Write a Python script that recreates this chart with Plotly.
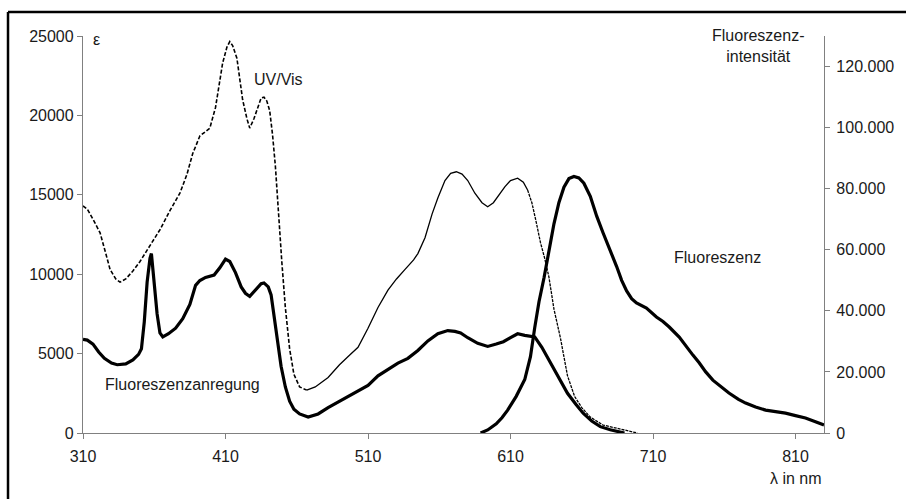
import plotly.graph_objects as go

# ---------------- data ----------------
uv_wl = [310, 313, 318, 322, 326, 329, 333, 336, 340, 345, 350, 357, 364, 371, 378, 383, 387, 392, 396, 399,
         403, 406, 408, 411, 413, 415, 418, 420, 422, 425, 427, 430, 433, 435, 437, 439, 441, 443, 445, 447,
         449.5, 452, 455, 458, 462, 467, 473, 482, 490, 497, 503, 510, 517, 524, 530, 536, 542, 545, 550, 555,
         559, 564, 568, 572, 576, 580, 585, 590, 594, 598, 602, 606, 610, 615, 619, 622, 625, 628, 631, 634,
         637, 640.5, 645, 650, 655, 660, 666, 675, 684, 692, 699]
uv_eps = [14300, 14100, 13300, 12600, 11300, 10300, 9700, 9500, 9700, 10200, 10800, 11800, 12800, 14000, 15100,
          16300, 17600, 18700, 19000, 19200, 20500, 22200, 23300, 24300, 24650, 24400, 23600, 22300, 21000, 19800,
          19200, 19800, 20600, 21100, 21150, 20900, 20300, 18800, 16800, 14000, 10800, 7900, 5300, 3700, 2900,
          2700, 2900, 3500, 4300, 4900, 5400, 6600, 7900, 9000, 9700, 10300, 10900, 11300, 12300, 13800,
          14800, 15900, 16350, 16450, 16300, 15900, 15100, 14500, 14250, 14500, 15000, 15500, 15900, 16050, 15800,
          15300, 14500, 13300, 12000, 11000, 9800, 7800, 6000, 3600, 2300, 1600, 1000, 500, 300, 150, 0]

exc_wl = [310, 313, 317, 321, 325, 330, 334, 340, 345, 349, 351, 353, 355, 357, 358, 360, 362, 364, 366, 370,
          375, 380, 385, 389, 392, 396, 402, 406, 410, 413, 417, 421, 424, 427, 431, 435, 437, 440, 442, 444,
          446, 449, 452, 455, 458, 462, 468, 475, 482, 490, 497, 503, 510, 517, 524, 531, 538, 545, 552, 559,
          566, 571, 575, 580, 587, 594, 600, 605, 610, 615, 620, 627, 632, 638, 644, 650, 656, 661, 667, 673,
          680, 686, 690]
exc_eps = [5900, 5850, 5600, 5100, 4700, 4400, 4300, 4350, 4600, 4950, 5300, 7000, 9500, 11000, 11300, 9500,
           7500, 6300, 6050, 6250, 6600, 7200, 8100, 9300, 9600, 9800, 9950, 10400, 10950, 10800, 10100, 9200,
           8800, 8600, 9000, 9400, 9450, 9200, 8700, 7500, 6200, 4200, 2900, 2000, 1500, 1200, 1000, 1200, 1600,
           2000, 2300, 2600, 3000, 3600, 4000, 4400, 4700, 5200, 5800, 6250, 6450, 6400, 6300, 6000, 5650, 5450,
           5600, 5750, 6000, 6250, 6150, 6050, 5400, 4400, 3400, 2500, 1800, 1250, 750, 400, 200, 100, 0]

fl_wl = [589, 594, 600, 604, 608, 614, 620, 624, 627, 630, 633.6, 637, 640.5, 644, 647.5, 651, 654.5, 658,
         661.5, 666, 670.5, 675, 679, 684.5, 688, 691.5, 695, 698.4, 705.4, 712.4, 717, 721.4, 728.4, 733.3,
         738, 742.4, 747, 752, 758, 763.3, 770, 775, 782, 789, 796, 803, 810, 817, 824, 830]
fl_int = [0, 1000, 3000, 5000, 7500, 12000, 17500, 25000, 34500, 43000, 51000, 60000, 68500, 75500, 80500,
          83300, 84000, 83500, 81800, 77500, 71000, 65500, 61000, 54500, 50000, 46500, 44000, 42600, 40900,
          38000, 36500, 34700, 31400, 28200, 25500, 23000, 20000, 17300, 15000, 13100, 11000, 9800, 8500, 7500,
          7000, 6500, 5700, 4900, 3700, 2600]

x_ticks = [310, 410, 510, 610, 710, 810]
left_ticks = [0, 5000, 10000, 15000, 20000, 25000]
right_ticks = [0, 20000, 40000, 60000, 80000, 100000, 120000]

# UV/Vis line segments (dashed / solid / dashed)
uv_split1, uv_split2 = 467, 622

FONT = "Liberation Sans, Arial, sans-serif"
FS = 16
TXT = "#1a1a1a"
AX = "#808080"

fig = go.Figure()

def seg(lo, hi):
    xs, ys = [], []
    for w, e in zip(uv_wl, uv_eps):
        if lo <= w <= hi:
            xs.append(w); ys.append(e)
    return xs, ys

x1, y1 = seg(310, uv_split1)
x2, y2 = seg(uv_split1, uv_split2)
x3, y3 = seg(uv_split2, 999)
fig.add_trace(go.Scatter(x=x1, y=y1, mode="lines", line=dict(color="black", width=1.6, dash="4px,2px"),
                         showlegend=False, hoverinfo="skip"))
fig.add_trace(go.Scatter(x=x2, y=y2, mode="lines", line=dict(color="black", width=1.3),
                         showlegend=False, hoverinfo="skip"))
fig.add_trace(go.Scatter(x=x3, y=y3, mode="lines", line=dict(color="black", width=1.3, dash="3px,1px"),
                         showlegend=False, hoverinfo="skip"))

fig.add_trace(go.Scatter(x=exc_wl, y=exc_eps, mode="lines", line=dict(color="black", width=3.2),
                         showlegend=False, hoverinfo="skip"))
fig.add_trace(go.Scatter(x=fl_wl, y=fl_int, mode="lines", line=dict(color="black", width=3.2),
                         yaxis="y2", showlegend=False, hoverinfo="skip"))

fig.update_layout(
    width=906, height=499,
    margin=dict(l=83, r=77, t=36, b=66),
    paper_bgcolor="white", plot_bgcolor="white",
    separators=",.",
    font=dict(family=FONT, size=FS, color=TXT),
    xaxis=dict(range=[310, 830], tickvals=x_ticks, ticktext=[str(v) for v in x_ticks],
               showgrid=False, zeroline=False, showline=True, linecolor=AX, linewidth=1.3,
               ticks="outside", ticklen=5, tickcolor=AX, tickfont=dict(size=FS, color=TXT),
               ticklabelstandoff=4),
    yaxis=dict(range=[0, 25000], tickvals=left_ticks, tickformat="d",
               showgrid=False, zeroline=False, showline=True, linecolor=AX, linewidth=1.3,
               ticks="outside", ticklen=5, tickcolor=AX, tickfont=dict(size=FS, color=TXT)),
    yaxis2=dict(range=[0, 130000], tickvals=right_ticks, tickformat=",d", overlaying="y", side="right",
                showgrid=False, zeroline=False, showline=True, linecolor=AX, linewidth=1.3,
                ticks="outside", ticklen=5, tickcolor=AX, tickfont=dict(size=FS, color=TXT),
                ticklabelstandoff=3),
)

anns = [
    dict(x=447.4, y=22230, xref="x", yref="y", text="UV/Vis"),
    dict(x=755, y=11080, xref="x", yref="y", text="Fluoreszenz"),
    dict(x=379.7, y=3085, xref="x", yref="y", text="Fluoreszenzanregung"),
    dict(x=319.8, y=24750, xref="x", yref="y", text="ε"),
    dict(x=783.5, y=24370, xref="x", yref="y", text="Fluoreszenz-<br>intensität", align="center"),
    dict(x=810, y=-0.115, xref="x", yref="paper", text="λ in nm"),
]
for a in anns:
    fig.add_annotation(showarrow=False, xanchor="center", yanchor="middle",
                       font=dict(family=FONT, size=FS, color=TXT), **a)

# outer frame (top and left edges visible, the rest is outside the picture)
fig.add_shape(type="line", xref="paper", yref="paper", x0=-0.1012, y0=1.0605, x1=1.2, y1=1.0605,
              line=dict(color="black", width=2.5))
fig.add_shape(type="line", xref="paper", yref="paper", x0=-0.1012, y0=1.0605, x1=-0.1012, y1=-0.3,
              line=dict(color="black", width=2.5))

fig.write_html("out.html", config={"displayModeBar": False},
               post_script="document.body.style.margin='0';document.body.style.overflow='hidden';")
